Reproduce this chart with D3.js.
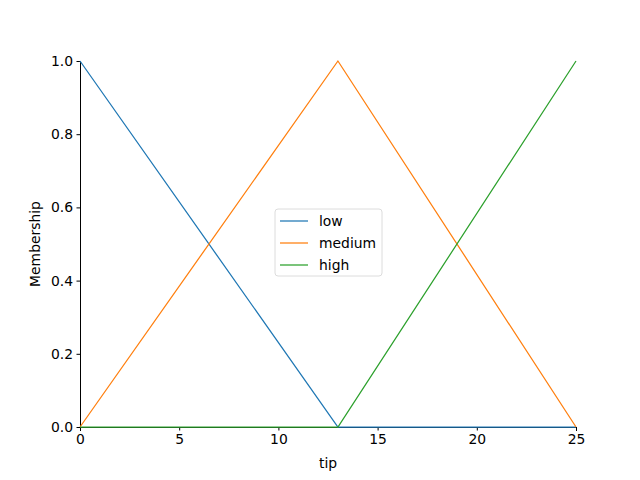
<!DOCTYPE html>
<html>
<head>
<meta charset="utf-8">
<script src="https://cdn.jsdelivr.net/npm/d3@7"></script>
<style>
  body { margin: 0; background: #fff; }
  text { font-family: "DejaVu Sans", sans-serif; }
</style>
</head>
<body>
<svg width="640" height="480"></svg>
<script>
// membership functions (x breakpoints, membership values)
var tipX = [0, 13, 25];
var lowVals = [1, 0, 0];
var mediumVals = [0, 1, 0];
var highVals = [0, 0, 1];
var seriesNames = ["low", "medium", "high"];
var seriesColors = ["#1f77b4", "#ff7f0e", "#2ca02c"];
var xTicks = [0, 5, 10, 15, 20, 25];
var yTicks = [0, 0.2, 0.4, 0.6, 0.8, 1.0];

var svg = d3.select("svg"),
    margin = {left: 80, right: 64, top: 61, bottom: 53},
    width = 640 - margin.left - margin.right,
    height = 480 - margin.top - margin.bottom;

var g = svg.append("g").attr("transform", "translate(" + margin.left + "," + margin.top + ")");

var x = d3.scaleLinear().domain([0, 25]).range([0, width]);
var y = d3.scaleLinear().domain([0, 1]).range([height, 0]);

var xAxis = g.append("g")
    .attr("transform", "translate(0," + height + ")")
    .call(d3.axisBottom(x).tickValues(xTicks).tickSize(3.5).tickPadding(3.5));
var yAxis = g.append("g")
    .call(d3.axisLeft(y).tickValues(yTicks).tickFormat(d3.format(".1f")).tickSize(3.5).tickPadding(3.5));

[xAxis, yAxis].forEach(function(a) {
  a.selectAll("text").style("font-size", "13.9px").attr("fill", "#000");
  a.selectAll("line, path").attr("stroke", "#000").attr("stroke-width", 1);
  a.select(".domain").attr("shape-rendering", "crispEdges");
});

g.append("text")
    .attr("x", width / 2).attr("y", height + 41)
    .attr("text-anchor", "middle")
    .style("font-size", "13.9px")
    .text("tip");

g.append("text")
    .attr("transform", "translate(-40," + (height / 2) + ") rotate(-90)")
    .attr("text-anchor", "middle")
    .style("font-size", "13.9px")
    .text("Membership");

var series = [lowVals, mediumVals, highVals];
var line = d3.line()
    .x(function(d, i) { return x(tipX[i]); })
    .y(function(d) { return y(d); });

g.selectAll(".series")
    .data(series)
  .enter().append("path")
    .attr("class", "series")
    .attr("d", line)
    .attr("fill", "none")
    .attr("stroke", function(d, i) { return seriesColors[i]; })
    .attr("stroke-width", 1.25);

// legend in center
var lg = svg.append("g").attr("transform", "translate(275,209)");
lg.append("rect")
    .attr("width", 107).attr("height", 67)
    .attr("rx", 3)
    .attr("fill", "#fff").attr("fill-opacity", 0.8)
    .attr("stroke", "#dcdcdc");

var item = lg.selectAll(".item")
    .data(seriesNames)
  .enter().append("g")
    .attr("transform", function(d, i) { return "translate(0," + (12 + i * 22) + ")"; });
item.append("line")
    .attr("x1", 5).attr("x2", 33)
    .attr("stroke", function(d, i) { return seriesColors[i]; })
    .attr("stroke-width", 1.25);
item.append("text")
    .attr("x", 44).attr("dy", "0.35em")
    .style("font-size", "13.9px")
    .text(function(d) { return d; });
</script>
</body>
</html>
